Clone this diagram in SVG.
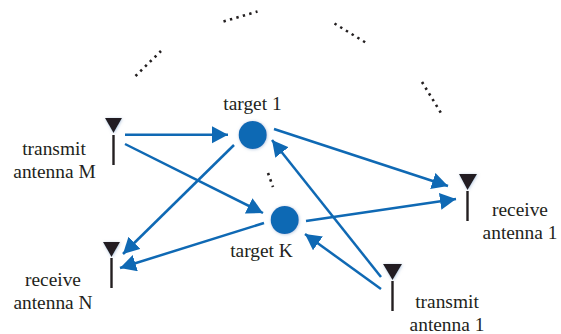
<svg xmlns="http://www.w3.org/2000/svg" width="561" height="334" viewBox="0 0 561 334">
<style>
.c{fill:none;stroke:#0f69b4;stroke-width:2.5;marker-end:url(#a)}
.t{fill:#231f20;font-family:"Liberation Serif","Times New Roman",serif;font-size:19.4px;text-anchor:middle}
.tri{fill:#231f20;filter:url(#g)}
.st{stroke:#231f20;stroke-width:2.4;fill:none}
.dot{fill:#0f69b4;filter:url(#g)}
.d{fill:none;stroke:#231f20;stroke-width:2.6;stroke-linecap:butt;stroke-dasharray:2.4 4.300}
</style>
<defs>
<marker id="a" markerUnits="userSpaceOnUse" markerWidth="18" markerHeight="18" refX="16" refY="8.500" orient="auto"><path d="M0 0L16 8.500L0 17Z" fill="#0f69b4"/></marker>
<filter id="g" x="-40%" y="-40%" width="180%" height="180%"><feDropShadow dx="0.5" dy="0.5" stdDeviation="1.5" flood-color="#7f9fc8" flood-opacity="0.6"/></filter>
</defs>
<g id="connectors">
<path class="c" d="M125 134.700L228 134.700"/>
<path class="c" d="M125 144L263 213"/>
<path class="c" d="M234 145L123 254"/>
<path class="c" d="M264 223L120 268"/>
<path class="c" d="M274 129L448 186"/>
<path class="c" d="M306 221L456 199"/>
<path class="c" d="M381 277L272 140"/>
<path class="c" d="M381 289L305 234"/>
</g>
<g id="ellipses">
<path class="d" d="M135.500 76L161 51"/>
<path class="d" d="M223.500 21.500L257.500 11.500"/>
<path class="d" d="M334.500 23.500L365.500 42.500"/>
<path class="d" d="M422 82L441 113"/>
<path class="d" d="M268 173L273 187"/>
</g>
<g id="antenna-m"><path class="tri" d="M105 118H122L113.500 133Z"/><path class="st" d="M113.500 135V165"/><text class="t" x="54" y="155">transmit</text><text class="t" x="54.500" y="178">antenna M</text></g>
<g id="antenna-n"><path class="tri" d="M103 242H120L111.500 257Z"/><path class="st" d="M111.500 258V288"/><text class="t" x="53" y="286">receive</text><text class="t" x="53" y="308.500">antenna N</text></g>
<g id="antenna-r1"><path class="tri" d="M459 174H477L467.500 190Z"/><path class="st" d="M467.500 191V221"/><text class="t" x="520" y="216">receive</text><text class="t" x="520" y="239">antenna 1</text></g>
<g id="antenna-t1"><path class="tri" d="M383 264H402L392.500 280Z"/><path class="st" d="M392.500 281V311"/><text class="t" x="447" y="308">transmit</text><text class="t" x="447" y="331">antenna 1</text></g>
<g id="target-1"><circle class="dot" cx="252.700" cy="135" r="14"/><text class="t" x="252.500" y="110">target 1</text></g>
<g id="target-k"><circle class="dot" cx="284.700" cy="220" r="14"/><text class="t" x="261.500" y="257">target K</text></g>
</svg>
